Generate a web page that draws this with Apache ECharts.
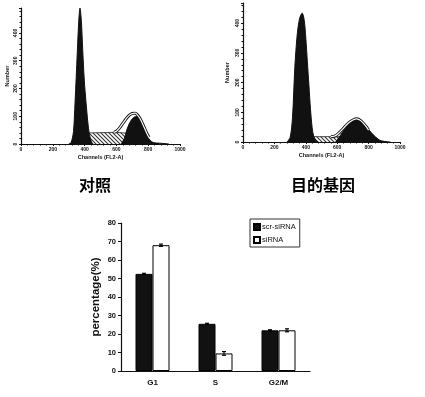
<!DOCTYPE html>
<html><head><meta charset="utf-8">
<script src="https://cdn.jsdelivr.net/npm/echarts@6/dist/echarts.min.js"></script>
<style>html,body{margin:0;padding:0;background:#fff}#c{width:425px;height:397px}</style>
</head><body><div id="c"></div>
<script>
// ---- Histogram 1 (对照) : [channel, count]
const h1G1 = [[300,0],[315,5],[330,45],[340,150],[354,330],[363,440],[371,490],[380,440],[388,340],[398,230],[409,150],[420,80],[430,35],[444,6],[455,0]];
const h1S = [[340,0],[380,22],[430,40],[600,42],[690,38],[740,18],[770,0]];
const h1G2 = [[630,0],[650,20],[665,50],[680,72],[696,88],[712,97],[727,99],[748,88],[765,68],[780,45],[796,26],[811,14],[832,5],[870,3],[916,1],[930,0]];
const h1Env = [[585,42],[602,47],[620,58],[640,74],[660,90],[680,103],[700,110],[717,111],[732,105],[750,90],[770,66],[790,40],[805,24]];
// ---- Histogram 2 (目的基因)
const h2G1 = [[280,0],[300,15],[315,80],[330,250],[345,360],[360,415],[377,434],[390,410],[400,350],[410,270],[420,190],[430,110],[440,50],[450,20],[465,5],[480,0]];
const h2S = [[350,0],[400,12],[440,18],[600,18],[700,17],[780,10],[820,0]];
const h2G2 = [[590,0],[604,10],[620,22],[640,38],[660,52],[680,64],[700,72],[724,76],[745,72],[770,60],[800,42],[830,24],[860,10],[880,4],[920,1],[940,0]];
const h2Env = [[560,18],[585,20],[610,30],[640,46],[670,63],[700,74],[724,78],[750,72],[780,55],[800,40]];
// ---- Bar chart
const categories = ['G1','S','G2/M'];
const scrValues = [52.5, 25.5, 22];
const siValues = [68, 9.5, 22];
const scrErr = [0.3, 0.3, 0.3];
const siErr = [0.6, 1.0, 0.8];
const panelTitles = ['对照','目的基因'];

const FF = 'Liberation Sans, Arial, sans-serif';

function hatch(){
  const c=document.createElement('canvas');c.width=4;c.height=4;
  const g=c.getContext('2d');g.fillStyle='#fff';g.fillRect(0,0,4,4);
  g.strokeStyle='#333';g.lineWidth=1.1;g.beginPath();
  g.moveTo(-1,-1);g.lineTo(5,5);g.moveTo(3,-1);g.lineTo(5,1);g.moveTo(-1,3);g.lineTo(1,5);g.stroke();
  return c;
}
const hatchPat = {image: hatch(), repeat:'repeat'};

function histAxes(idx, ymax, nameGapY){
  return {
    x: {type:'value', gridIndex:idx, min:0, max:1000, interval:200,
        name:'Channels (FL2-A)', nameLocation:'middle', nameGap:10,
        nameTextStyle:{fontSize:5.5, fontWeight:'bold', fontFamily:FF, color:'#111'},
        axisLine:{lineStyle:{color:'#111', width:1.2}},
        axisTick:{length:2, lineStyle:{color:'#111'}},
        minorTick:{show:true, splitNumber:5, length:1.5, lineStyle:{color:'#111'}},
        axisLabel:{fontSize:5, fontWeight:'bold', fontFamily:FF, color:'#111', margin:3, formatter:v=>String(v)},
        splitLine:{show:false}},
    y: {type:'value', gridIndex:idx, min:0, max:ymax, interval:100,
        name:'Number', nameLocation:'middle', nameGap:nameGapY, nameRotate:90,
        nameTextStyle:{fontSize:5.5, fontWeight:'bold', fontFamily:FF, color:'#111'},
        axisLine:{show:true, lineStyle:{color:'#111', width:1.2}},
        axisTick:{show:true, length:2, lineStyle:{color:'#111'}},
        minorTick:{show:true, splitNumber:5, length:1.5, lineStyle:{color:'#111'}},
        axisLabel:{fontSize:5, fontWeight:'bold', fontFamily:FF, color:'#111', rotate:90, margin:3, showMaxLabel:false,
          formatter:v=> (v%100===0? String(v):'')},
        splitLine:{show:false}}
  };
}
const a1 = histAxes(0, 490, 11);
const a2 = histAxes(1, 468, 13);

function histSeries(idx, G1, S, G2, Env){
  const base = {xAxisIndex:idx, yAxisIndex:idx, showSymbol:false, symbol:'none', silent:true, animation:false};
  return [
    Object.assign({type:'line', data:S, areaStyle:{color:hatchPat, opacity:1}, lineStyle:{color:'#222', width:0.8}, z:1}, base),
    Object.assign({type:'line', data:G1, smooth:0.3, areaStyle:{color:'#111', opacity:1}, lineStyle:{color:'#111', width:1}, z:2}, base),
    Object.assign({type:'line', data:G2, smooth:0.3, areaStyle:{color:'#111', opacity:1}, lineStyle:{color:'#111', width:1}, z:2}, base),
    Object.assign({type:'line', data:Env, smooth:0.3, lineStyle:{color:'#111', width:3}, z:3}, base),
    Object.assign({type:'line', data:Env, smooth:0.3, lineStyle:{color:'#fff', width:1.2}, z:4}, base)
  ];
}

const BW = 17;
function errSeries(vals, errs, off){
  return {type:'custom', xAxisIndex:2, yAxisIndex:2, silent:true, z:10, animation:false,
    data: vals.map((v,i)=>[i,v,errs[i]]),
    renderItem(params, api){
      const i=api.value(0), v=api.value(1), e=api.value(2);
      const c=api.coord([i,v]); const hi=api.coord([i,v+e]); const lo=api.coord([i,v-e]);
      const cx=c[0]+off;
      return {type:'group', children:[
        {type:'line', shape:{x1:cx,y1:hi[1],x2:cx,y2:lo[1]}, style:{stroke:'#000',lineWidth:1}},
        {type:'line', shape:{x1:cx-2,y1:hi[1],x2:cx+2,y2:hi[1]}, style:{stroke:'#000',lineWidth:1.2}},
        {type:'line', shape:{x1:cx-2,y1:lo[1],x2:cx+2,y2:lo[1]}, style:{stroke:'#000',lineWidth:1.2}}
      ]};
    }};
}

const chart = echarts.init(document.getElementById('c'), null, {renderer:'canvas'});
chart.setOption({
  backgroundColor:'#fff',
  animation:false,
  title:[
    {text:panelTitles[0], left:90, top:172, textAlign:'center', textStyle:{fontSize:16, fontWeight:'bold', fontFamily:'Noto Sans CJK SC', color:'#000'}},
    {text:panelTitles[1], left:318, top:172, textAlign:'center', textStyle:{fontSize:16, fontWeight:'bold', fontFamily:'Noto Sans CJK SC', color:'#000'}}
  ],
  legend:{data:['scr-siRNA','siRNA'], orient:'vertical', left:250, top:219, icon:'rect', itemWidth:6, itemHeight:6, itemGap:5,
    padding:[4,4,3,3], borderColor:'#333', borderWidth:1, backgroundColor:'#fff',
    textStyle:{fontSize:7.5, fontFamily:FF, color:'#111', padding:[0,0,0,-3]}},
  grid:[
    {left:21, right:245, top:8, bottom:253},
    {left:243, right:25, top:3, bottom:255},
    {left:121, right:115, top:223, bottom:26}
  ],
  xAxis:[a1.x, a2.x,
    {type:'category', gridIndex:2, data:categories,
     axisLine:{lineStyle:{color:'#111', width:1.2}}, axisTick:{show:false},
     axisLabel:{fontSize:8, fontWeight:'bold', fontFamily:FF, color:'#111', margin:8}}],
  yAxis:[a1.y, a2.y,
    {type:'value', gridIndex:2, min:0, max:80, interval:10,
     name:'percentage(%)', nameLocation:'middle', nameGap:19, nameRotate:90,
     nameTextStyle:{fontSize:11.5, fontWeight:'bold', fontFamily:FF, color:'#111'},
     axisLine:{show:true, lineStyle:{color:'#111', width:1.2}},
     axisTick:{show:true, length:3, lineStyle:{color:'#111'}},
     axisLabel:{fontSize:7.5, fontWeight:'bold', fontFamily:FF, color:'#111', margin:5},
     splitLine:{show:false}}],
  series:[
    ...histSeries(0, h1G1, h1S, h1G2, h1Env),
    ...histSeries(1, h2G1, h2S, h2G2, h2Env),
    {type:'bar', name:'scr-siRNA', xAxisIndex:2, yAxisIndex:2, data:scrValues, barWidth:BW, barGap:'0%',
     itemStyle:{color:'#111', borderColor:'#000', borderWidth:1}},
    {type:'bar', name:'siRNA', xAxisIndex:2, yAxisIndex:2, data:siValues, barWidth:BW, barGap:'0%',
     itemStyle:{color:'#fff', borderColor:'#000', borderWidth:1}},
    errSeries(scrValues, scrErr, -BW/2),
    errSeries(siValues, siErr, BW/2)
  ]
});
</script>
</body></html>
